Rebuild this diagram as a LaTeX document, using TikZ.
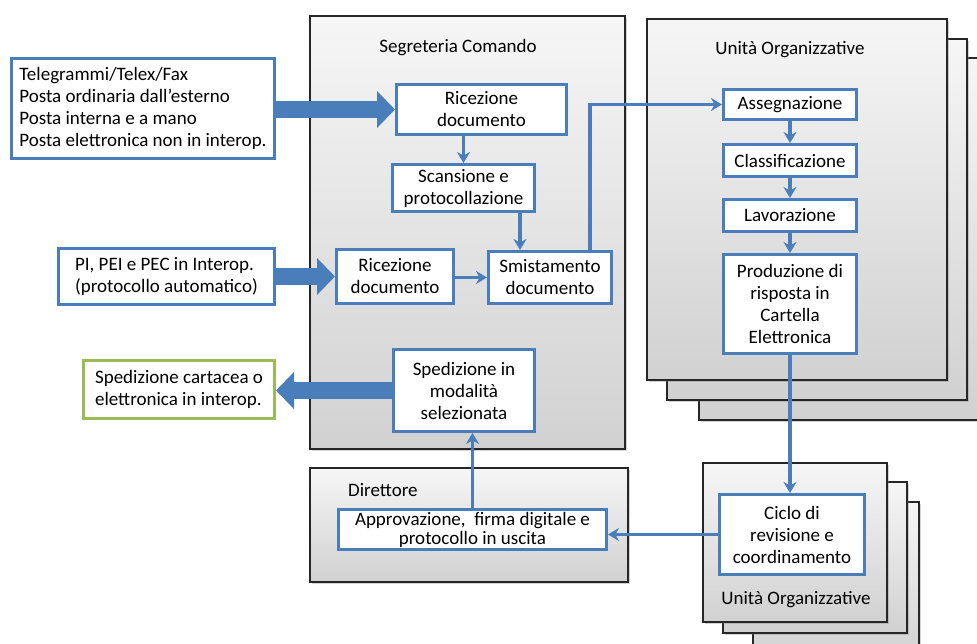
\documentclass[tikz,border=0pt]{standalone}
\usepackage{fontspec}
\setmainfont{Carlito}
\usepackage{xcolor}
\usepackage{tikz}
\usetikzlibrary{
  positioning,
  arrows.meta,
  shadows,
  calc
}

\definecolor{flowblue}{RGB}{74,126,187}
\definecolor{boxgreen}{RGB}{155,187,89}

\begin{document}
\begin{tikzpicture}[
  x=1pt, y=-1pt,
  font=\fontsize{19}{22}\selectfont,
  panel/.style={
    draw=black!85,
    line width=1.2pt,
    top color=gray!7,
    bottom color=gray!36,
    drop shadow={opacity=0.35, shadow xshift=2pt, shadow yshift=-2pt}
  },
  box/.style={
    draw=flowblue,
    line width=3pt,
    fill=white,
    align=center,
    anchor=north west,
    inner sep=1pt
  },
  srcbox/.style={
    box,
    align=left
  },
  flow/.style={
    draw=flowblue,
    line width=3.5pt,
    -{Stealth[length=11pt, width=13pt]}
  },
  fat/.style={
    draw=flowblue,
    line width=17pt,
    -{Triangle[length=18pt, width=36pt]}
  }
]
\useasboundingbox (0,0) rectangle (977,644);

% Panels
\draw[panel] (310,16) rectangle (625,449);
\draw[panel] (310,468) rectangle (628,582);

\draw[panel] (699,58) rectangle (990,420);
\draw[panel] (667,39) rectangle (967,400);
\draw[panel] (647,19) rectangle (947,380);

\draw[panel] (753,502) rectangle (919,660);
\draw[panel] (723,482) rectangle (907,633);
\draw[panel] (703,463) rectangle (887,622);

% Panel titles
\node (segtitle) at (458,48) {Segreteria Comando};
\node (uotitle) at (790,50) {Unità Organizzative};
\node[anchor=west, inner sep=0pt] (dirtitle) at (348,490) {Direttore};
\node (uobtitle) at (796,600) {Unità Organizzative};

% Sources and destination
\node[srcbox, minimum width=263pt, minimum height=100pt] (tel) at (10,57)
  {Telegrammi/Telex/Fax\\Posta ordinaria dall’esterno\\Posta interna e a mano\\Posta elettronica non in interop.};
\node[srcbox, minimum width=216pt, minimum height=56pt] (pi) at (57,247)
  {PI, PEI e PEC in Interop.\\(protocollo automatico)};
\node[srcbox, draw=boxgreen, minimum width=191pt, minimum height=58pt] (spedout) at (82,359)
  {Spedizione cartacea o\\elettronica in interop.};

% Segreteria Comando
\node[box, minimum width=170pt, minimum height=50pt] (ric1) at (395,83) {Ricezione\\documento};
\node[box, minimum width=142pt, minimum height=47pt] (scan) at (391,163) {Scansione e\\protocollazione};
\node[box, minimum width=117pt, minimum height=54pt] (ric2) at (335,248) {Ricezione\\documento};
\node[box, minimum width=123pt, minimum height=52pt] (smist) at (487,250) {Smistamento\\documento};
\node[box, minimum width=141pt, minimum height=82pt] (sped) at (392,348) {Spedizione in\\modalità\\selezionata};

% Unita Organizzative
\node[box, minimum width=133pt, minimum height=30pt] (asseg) at (722,88) {Assegnazione};
\node[box, minimum width=133pt, minimum height=32pt] (class) at (722,143) {Classificazione};
\node[box, minimum width=133pt, minimum height=32pt] (lav) at (722,198) {Lavorazione};
\node[box, minimum width=133pt, minimum height=99pt] (prod) at (722,253) {Produzione di\\risposta in\\Cartella\\Elettronica};
\node[box, minimum width=145pt, minimum height=80pt] (ciclo) at (718,493) {Ciclo di\\revisione e\\coordinamento};

% Direttore
\node[box, inner sep=0pt, minimum width=268pt, minimum height=40pt,
  font=\fontsize{19}{19}\selectfont] (appr) at (337,508) {Approvazione,\ \ firma digitale e\\protocollo in uscita};

% Block arrows
\draw[fat] (tel.east |- ric1.west) -- (ric1.west);
\draw[fat] (pi.east) -- (ric2.west);
\draw[fat] (sped.west) -- (spedout.east |- sped.west);

% Flow
\draw[flow] (ric1.south -| scan.north) -- (scan.north);
\draw[flow] ([xshift=-16pt]scan.south east) -- ([xshift=-16pt]scan.south east |- smist.north);
\draw[flow] (ric2.east |- smist.west) -- (smist.west);
\draw[flow] ([xshift=-23pt]smist.north east) |- (asseg.west);
\draw[flow] (asseg.south) -- (class.north);
\draw[flow] (class.south) -- (lav.north);
\draw[flow] (lav.south) -- (prod.north);
\draw[flow] (prod.south) -- (prod.south |- ciclo.north);
\draw[flow] (ciclo.west) -- (appr.east |- ciclo.west);
\draw[flow] (appr.north) -- (appr.north |- sped.south);

\end{tikzpicture}
\end{document}
